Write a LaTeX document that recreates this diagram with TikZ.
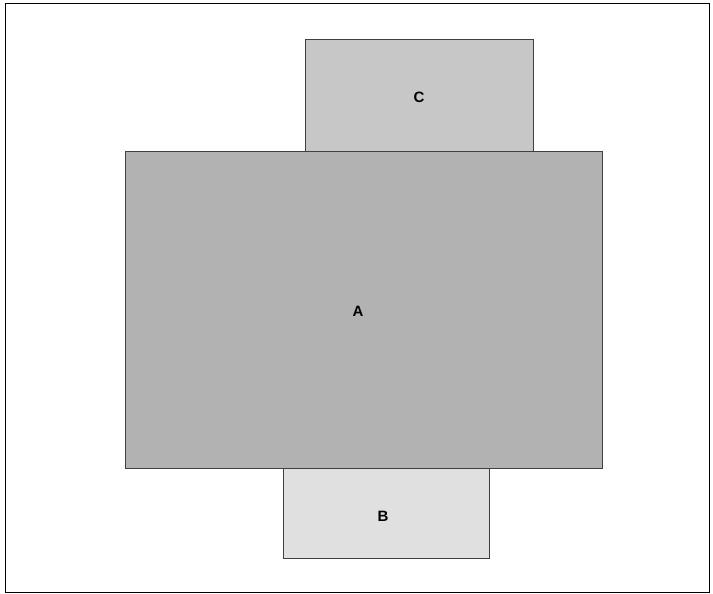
\documentclass[tikz,border=0pt]{standalone}
\usepackage{fontspec}
\setmainfont{Liberation Sans}
\begin{document}
\begin{tikzpicture}[x=1pt,y=-1pt,
  region/.style={draw=black!75, line width=0.8pt},
  lbl/.style={font=\bfseries\fontsize{15}{15}\selectfont, text=black}]
\useasboundingbox (0,0) rectangle (713,594);
\draw[line width=1pt] (5,4) rectangle (709,592);
\filldraw[region, fill=black!22] (305,39) rectangle (533,151);
\filldraw[region, fill=black!12] (283,468) rectangle (489,558);
\filldraw[region, fill=black!30] (125,151) rectangle (602,468);
\node[lbl] (c) at (419,97) {C};
\node[lbl] (a) at (358,311) {A};
\node[lbl] (b) at (383,516) {B};
\end{tikzpicture}
\end{document}
